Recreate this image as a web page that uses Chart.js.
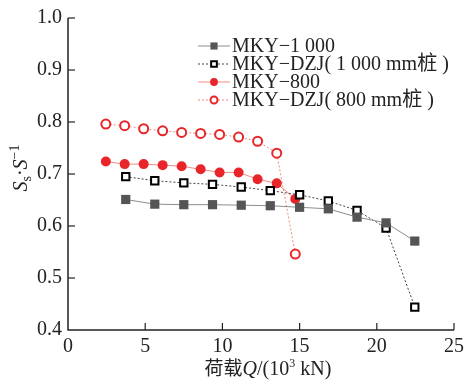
<!DOCTYPE html>
<html><head><meta charset="utf-8">
<script src="https://cdn.jsdelivr.net/npm/chart.js@4"></script>
<style>html,body{margin:0;padding:0;background:#fff}#wrap{width:469px;height:380px}</style>
</head><body><div id="wrap"><canvas id="c" width="469" height="380"></canvas></div>
<script>
const seriesNames = ["MKY−1 000", "MKY−DZJ( 1 000 mm桩 )", "MKY−800", "MKY−DZJ( 800 mm桩 )"];
const load1000 = [3.74, 5.62, 7.5, 9.36, 11.22, 13.1, 15.0, 16.86, 18.72, 20.6, 22.46];
const mky1000 = [0.651, 0.642, 0.641, 0.641, 0.640, 0.639, 0.636, 0.633, 0.617, 0.606, 0.571];
const dzj1000 = [0.695, 0.687, 0.683, 0.680, 0.675, 0.668, 0.660, 0.648, 0.630, 0.596, 0.444];
const load800 = [2.45, 3.67, 4.9, 6.13, 7.36, 8.59, 9.82, 11.05, 12.28, 13.52, 14.72];
const mky800 = [0.724, 0.719, 0.719, 0.717, 0.715, 0.709, 0.703, 0.703, 0.690, 0.682, 0.652];
const dzj800 = [0.796, 0.793, 0.787, 0.783, 0.780, 0.778, 0.776, 0.771, 0.763, 0.740, 0.546];
const xTicks = [0, 5, 10, 15, 20, 25];
const yTicks = [0.4, 0.5, 0.6, 0.7, 0.8, 0.9, 1.0];

const pts = (xs, ys) => xs.map((x, i) => ({x, y: ys[i]}));
const SERIF = '"Liberation Serif","Noto Sans CJK SC",serif';

const datasets = [
  {label: seriesNames[0], data: pts(load1000, mky1000), borderColor: '#8c8c8c', borderWidth: 1,
   pointStyle: 'rect', pointRadius: 6.5, pointBackgroundColor: '#555555', pointBorderColor: '#555555', pointBorderWidth: 0},
  {label: seriesNames[1], data: pts(load1000, dzj1000), borderColor: '#444444', borderWidth: 1, borderDash: [2, 2],
   pointStyle: 'rect', pointRadius: 5.2, pointBackgroundColor: '#ffffff', pointBorderColor: '#000000', pointBorderWidth: 2},
  {label: seriesNames[2], data: pts(load800, mky800), borderColor: '#f08a80', borderWidth: 1,
   pointStyle: 'circle', pointRadius: 5, pointBackgroundColor: '#e8262a', pointBorderColor: '#e8262a', pointBorderWidth: 0},
  {label: seriesNames[3], data: pts(load800, dzj800), borderColor: '#f08a80', borderWidth: 1, borderDash: [2, 2],
   pointStyle: 'circle', pointRadius: 4.5, pointBackgroundColor: '#ffffff', pointBorderColor: '#e8262a', pointBorderWidth: 2}
];
datasets.forEach(d => { d.showLine = true; d.fill = false; d.tension = 0; });

const deco = {
  id: 'deco',
  afterDraw(chart) {
    const ctx = chart.ctx, a = chart.chartArea;
    const xs = chart.scales.x, ys = chart.scales.y;
    ctx.save();
    // axes
    ctx.strokeStyle = '#222'; ctx.lineWidth = 1.5;
    ctx.beginPath(); ctx.moveTo(a.left, a.top); ctx.lineTo(a.left, a.bottom); ctx.lineTo(a.right, a.bottom); ctx.stroke();
    ctx.lineWidth = 1.2;
    yTicks.forEach(v => { const p = ys.getPixelForValue(v); if (v > 0.4) { ctx.beginPath(); ctx.moveTo(a.left, p); ctx.lineTo(a.left + 7, p); ctx.stroke(); } });
    xTicks.forEach(v => { const p = xs.getPixelForValue(v); if (v > 0) { ctx.beginPath(); ctx.moveTo(p, a.bottom); ctx.lineTo(p, a.bottom - 7); ctx.stroke(); } });
    // legend
    const lx0 = 198, lx1 = 230, tx = 232, rows = [46, 64, 82, 100];
    chart.data.datasets.forEach((ds, i) => {
      const y = rows[i];
      ctx.save();
      ctx.strokeStyle = ds.borderColor; ctx.lineWidth = 1; ctx.setLineDash(ds.borderDash || []);
      ctx.beginPath(); ctx.moveTo(lx0, y); ctx.lineTo(lx1, y); ctx.stroke();
      ctx.setLineDash([]);
      ctx.fillStyle = ds.pointBackgroundColor; ctx.strokeStyle = ds.pointBorderColor; ctx.lineWidth = ds.pointBorderWidth;
      Chart.helpers.drawPoint(ctx, {pointStyle: ds.pointStyle, radius: ds.pointRadius * 0.78, borderWidth: ds.pointBorderWidth, rotation: 0}, (lx0 + lx1) / 2, y);
      ctx.restore();
      ctx.fillStyle = '#222'; ctx.font = '20px ' + SERIF; ctx.textBaseline = 'middle'; ctx.textAlign = 'left';
      ctx.fillText(ds.label, tx, y + 1);
    });
    // y title
    ctx.save();
    ctx.translate(27, 168); ctx.rotate(-Math.PI / 2);
    ctx.fillStyle = '#222'; ctx.textBaseline = 'alphabetic'; ctx.textAlign = 'left';
    const parts = [
      {t: 'S', f: 'italic 20px ' + SERIF, dy: 0},
      {t: 's', f: '14px ' + SERIF, dy: 4},
      {t: '·', f: '20px ' + SERIF, dy: 0},
      {t: 'S', f: 'italic 20px ' + SERIF, dy: 0},
      {t: '−1', f: '14px ' + SERIF, dy: -8}
    ];
    let w = 0; parts.forEach(p => { ctx.font = p.f; w += ctx.measureText(p.t).width; });
    let cx = -w / 2;
    parts.forEach(p => { ctx.font = p.f; ctx.fillText(p.t, cx, p.dy); cx += ctx.measureText(p.t).width; });
    ctx.restore();
    // x title
    const xp = [
      {t: '荷载', f: '19px "Noto Sans CJK SC",sans-serif', dy: 0},
      {t: 'Q', f: 'italic 20px ' + SERIF, dy: 0},
      {t: '/(10', f: '20px ' + SERIF, dy: 0},
      {t: '3', f: '12px ' + SERIF, dy: -8},
      {t: ' kN)', f: '20px ' + SERIF, dy: 0}
    ];
    let xw = 0; xp.forEach(p => { ctx.font = p.f; xw += ctx.measureText(p.t).width; });
    let xx = 268 - xw / 2;
    ctx.fillStyle = '#222'; ctx.textBaseline = 'alphabetic'; ctx.textAlign = 'left';
    xp.forEach(p => { ctx.font = p.f; ctx.fillText(p.t, xx, 375 + p.dy); xx += ctx.measureText(p.t).width; });
    ctx.restore();
  }
};

new Chart(document.getElementById('c'), {
  type: 'scatter',
  data: {datasets},
  options: {
    responsive: false, animation: false, devicePixelRatio: 1,
    layout: {padding: {left: 0, right: 11, top: 15, bottom: 0}},
    plugins: {legend: {display: false}, tooltip: {enabled: false}},
    scales: {
      x: {type: 'linear', min: 0, max: 25,
        afterBuildTicks: s => { s.ticks = xTicks.map(v => ({value: v})); },
        afterFit: s => { s.height = 50; },
        grid: {display: false, drawTicks: false}, border: {display: false},
        ticks: {padding: 5, color: '#222', font: {family: SERIF, size: 20}, maxRotation: 0, callback: v => String(v)}},
      y: {type: 'linear', min: 0.4, max: 1.0,
        afterBuildTicks: s => { s.ticks = yTicks.map(v => ({value: v})); },
        afterFit: s => { s.width = 68; },
        grid: {display: false, drawTicks: false}, border: {display: false},
        ticks: {padding: 6, color: '#222', font: {family: SERIF, size: 20}, callback: v => Number(v).toFixed(1)}}
    }
  },
  plugins: [deco]
});
</script></body></html>
